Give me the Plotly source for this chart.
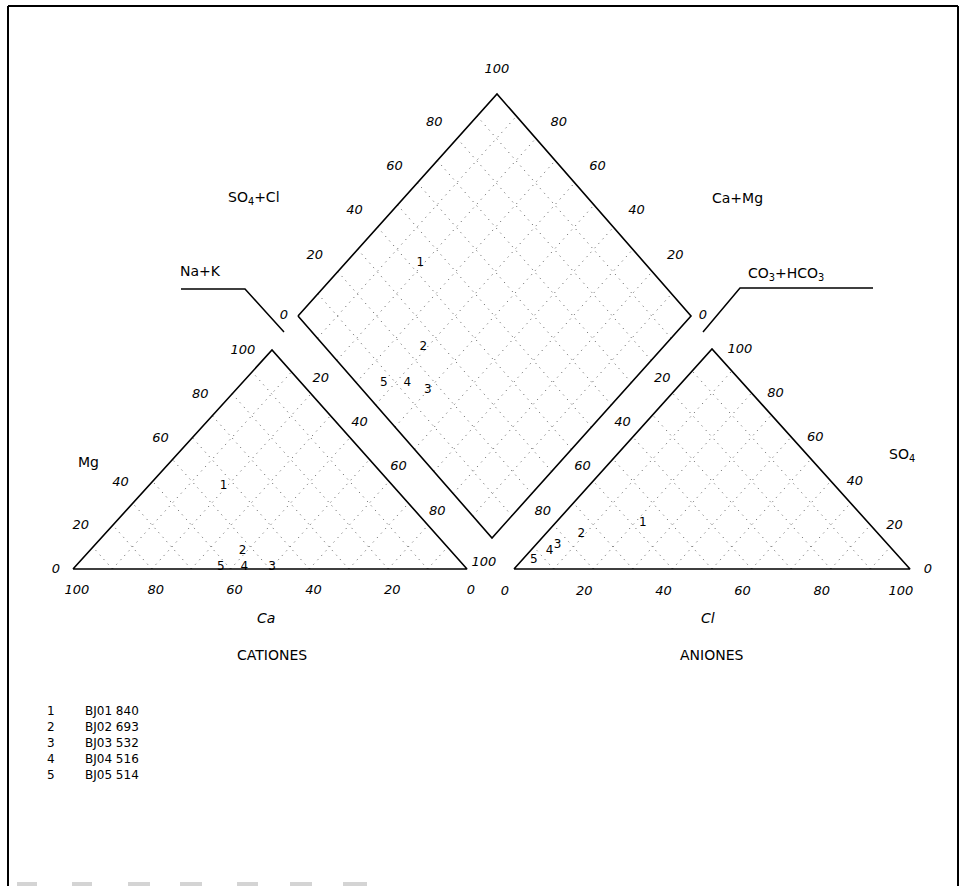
import plotly.graph_objects as go

W, H = 965, 886

# ---------------------------------------------------------------- data
sample_ids = ["1", "2", "3", "4", "5"]
sample_names = ["BJ01 840", "BJ02 693", "BJ03 532", "BJ04 516", "BJ05 514"]

# cations, % of meq/l
ca = [43, 53, 49, 56, 62]
mg = [38, 8, 1, 1, 1]
nak = [19, 39, 50, 43, 37]

# anions, % of meq/l
cl = [22, 9, 5.5, 5, 3]
so4 = [21, 16, 11, 8, 4]
hco3 = [57, 75, 83.5, 87, 93]

tick_vals = [0, 20, 40, 60, 80, 100]
grid_vals = [10, 20, 30, 40, 50, 60, 70, 80, 90]

# ---------------------------------------------------------------- geometry (page pixels)
CAT = {"left": (73, 569), "right": (467, 569), "top": (272, 350)}   # Ca / Na+K / Mg
AN = {"left": (514, 569), "right": (910, 569), "top": (712, 349)}   # CO3+HCO3 / Cl / SO4
DL, DR, DB = (298, 316), (691, 316), (492, 538)
DT = (DL[0] + DR[0] - DB[0], DL[1] + DR[1] - DB[1])

FONT = "DejaVu Sans"


def tri_xy(tri, r, t):
    """Barycentric -> page: r = share of right corner, t = share of top corner."""
    lx, ly = tri["left"]
    rx, ry = tri["right"]
    tx, ty = tri["top"]
    return (lx + r * (rx - lx) + t * (tx - lx), ly + r * (ry - ly) + t * (ty - ly))


def dia_xy(c, a):
    """Diamond: c = Ca+Mg share, a = SO4+Cl share."""
    return (DB[0] + c * (DL[0] - DB[0]) + a * (DR[0] - DB[0]),
            DB[1] + c * (DL[1] - DB[1]) + a * (DR[1] - DB[1]))


def lerp(p, q, f):
    return (p[0] + f * (q[0] - p[0]), p[1] + f * (q[1] - p[1]))


fig = go.Figure()

# ---------------------------------------------------------------- dotted grids (diagonal cross-hatch)
gx, gy = [], []


def seg(p, q):
    gx.extend([p[0], q[0], None])
    gy.extend([p[1], q[1], None])


for tri in (CAT, AN):
    for v in grid_vals:
        f = v / 100
        seg(tri_xy(tri, f, 0), tri_xy(tri, f, 1 - f))
        seg(tri_xy(tri, 1 - f, 0), tri_xy(tri, 0, 1 - f))
for v in grid_vals:
    f = v / 100
    seg(dia_xy(f, 0), dia_xy(f, 1))
    seg(dia_xy(0, f), dia_xy(1, f))

fig.add_trace(go.Scatter(x=gx, y=gy, mode="lines", hoverinfo="skip",
                         line=dict(color="#555555", width=1, dash="1px,5px")))

# ---------------------------------------------------------------- outlines
ox, oy = [], []
for tri in (CAT, AN):
    pts = [tri["left"], tri["right"], tri["top"], tri["left"]]
    ox += [p[0] for p in pts] + [None]
    oy += [p[1] for p in pts] + [None]
pts = [DL, DT, DR, DB, DL]
ox += [p[0] for p in pts]
oy += [p[1] for p in pts]
fig.add_trace(go.Scatter(x=ox, y=oy, mode="lines", hoverinfo="skip",
                         line=dict(color="black", width=1.6)))

# ---------------------------------------------------------------- tick labels
tx, ty, tt = [], [], []


def tick(p, dx, dy, v):
    tx.append(p[0] + dx)
    ty.append(p[1] + dy)
    tt.append(str(v))


for v in tick_vals:
    f = v / 100
    # cation triangle: Ca along the base (100 at left), Mg on the left side
    tick(tri_xy(CAT, 1 - f, 0), 4, 22, v)
    dx = {0: -17, 100: -29}.get(v, -32)
    tick(tri_xy(CAT, 0, f), dx, 1, v)
    # anion triangle: Cl along the base, SO4 on the right side
    tick(tri_xy(AN, f, 0), -9, 23, v)
    dx = {0: 18, 100: 28}.get(v, 24)
    tick(tri_xy(AN, 1 - f, f), dx, 1, v)
    # diamond edges
    if v == 0:
        tick(DL, -14, 0, v)
        tick(DR, 12, 0, v)
    elif v == 100:
        tick(DT, 0, -24, v)
        tick(DB, -8, 25, v)
    else:
        tick(lerp(DL, DT, f), -23, -16, v)   # SO4+Cl
        tick(lerp(DR, DT, f), 23, -16, v)    # Ca+Mg
        tick(lerp(DL, DB, f), -16, 18, v)    # Na+K
        tick(lerp(DR, DB, f), 11, 18, v)     # CO3+HCO3

fig.add_trace(go.Scatter(x=tx, y=ty, text=tt, mode="text", hoverinfo="skip",
                         textfont=dict(family=FONT, size=13, color="black", style="italic")))

# ---------------------------------------------------------------- samples
px, py, pt = [], [], []
for i, sid in enumerate(sample_ids):
    p = tri_xy(CAT, nak[i] / 100, mg[i] / 100)
    px.append(p[0]); py.append(p[1]); pt.append(sid)
    p = tri_xy(AN, cl[i] / 100, so4[i] / 100)
    px.append(p[0]); py.append(p[1]); pt.append(sid)
    p = dia_xy((ca[i] + mg[i]) / 100, (so4[i] + cl[i]) / 100)
    px.append(p[0]); py.append(p[1]); pt.append(sid)

fig.add_trace(go.Scatter(x=px, y=py, text=pt, mode="text",
                         textfont=dict(family=FONT, size=12, color="black")))

# ---------------------------------------------------------------- axis titles / headings
def label(x, y, s, size=14, italic=False, anchor="center"):
    fig.add_annotation(x=x, y=y, xref="x", yref="y", text=s, showarrow=False,
                       xanchor=anchor, yanchor="middle",
                       font=dict(family=FONT, size=size, color="black",
                                 style="italic" if italic else "normal"))


label(266, 618, "Ca", italic=True)
label(708, 618, "Cl", italic=True)
label(272, 655, "CATIONES")
label(712, 655, "ANIONES")
label(88, 462, "Mg")
label(902, 455, "SO<sub>4</sub>")
label(254, 198, "SO<sub>4</sub>+Cl")
label(737, 198, "Ca+Mg")
label(200, 271, "Na+K")
label(786, 274, "CO<sub>3</sub>+HCO<sub>3</sub>")

# leader lines for the lower diamond axes
fig.add_shape(type="path", path="M181,289 L245,289 L284,332",
              line=dict(color="black", width=1.5), xref="x", yref="y")
fig.add_shape(type="path", path="M873,288 L740,288 L703,332",
              line=dict(color="black", width=1.5), xref="x", yref="y")

# ---------------------------------------------------------------- sample list
for i, (sid, name) in enumerate(zip(sample_ids, sample_names)):
    y = 711 + 16 * i
    label(51, y, sid, size=12)
    label(83, y, name, size=12, anchor="left")

# ---------------------------------------------------------------- sheet frame
for (x0, y0, x1, y1) in [(8, 6, 958, 6), (8, 6, 8, 886), (958, 6, 958, 886)]:
    fig.add_shape(type="line", x0=x0, y0=y0, x1=x1, y1=y1, xref="x", yref="y",
                  line=dict(color="black", width=2))
for (x0, x1) in [(17, 37), (72, 92), (128, 150), (180, 202), (237, 258), (290, 312), (343, 367)]:
    fig.add_shape(type="rect", x0=x0, x1=x1, y0=882, y1=886, xref="x", yref="y",
                  line=dict(width=0), fillcolor="#d4d4d4")

fig.update_layout(
    width=W, height=H,
    margin=dict(l=0, r=0, t=0, b=0),
    paper_bgcolor="white", plot_bgcolor="white",
    showlegend=False,
    xaxis=dict(range=[0, W], visible=False, fixedrange=True),
    yaxis=dict(range=[H, 0], visible=False, fixedrange=True),
)

fig.write_html("out.html", config={"displayModeBar": False})
